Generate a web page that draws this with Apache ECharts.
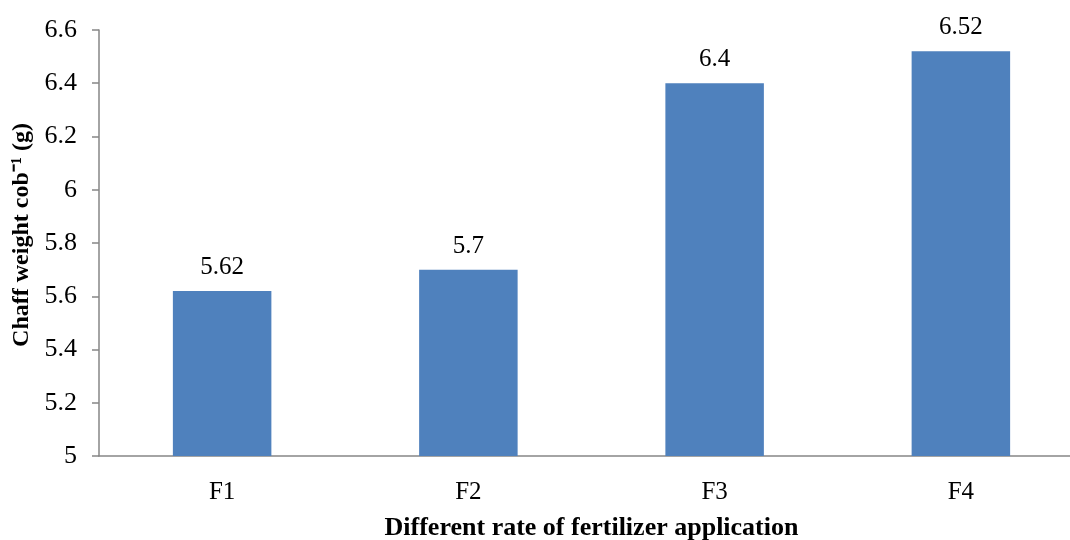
<!DOCTYPE html>
<html>
<head>
<meta charset="utf-8">
<script src="https://cdn.jsdelivr.net/npm/echarts@6/dist/echarts.min.js"></script>
<style>html,body{margin:0;padding:0;background:#fff;}#c{width:1070px;height:540px;}</style>
</head>
<body>
<div id="c"></div>
<script>
const categories = ['F1', 'F2', 'F3', 'F4'];
const chaffWeight = [5.62, 5.7, 6.4, 6.52];
const yMin = 5, yMax = 6.6, yInterval = 0.2;

const chart = echarts.init(document.getElementById('c'), null, {renderer: 'canvas'});
const serif = '"Liberation Serif", "Times New Roman", serif';
chart.setOption({
  animation: false,
  backgroundColor: '#ffffff',
  grid: {left: 99, top: 30, width: 985, height: 426, containLabel: false, outerBoundsMode: 'none'},
  xAxis: {
    type: 'category',
    data: categories,
    name: 'Different rate of fertilizer application',
    nameLocation: 'middle',
    nameGap: 59,
    nameTextStyle: {fontFamily: serif, fontWeight: 'bold', fontSize: 26, color: '#000'},
    axisLine: {show: true, lineStyle: {color: '#868686', width: 1.5}},
    axisTick: {show: false},
    axisLabel: {fontFamily: serif, fontSize: 25, color: '#000', margin: 24}
  },
  yAxis: {
    type: 'value',
    min: yMin, max: yMax, interval: yInterval,
    name: 'Chaff weight cob\u207B\u00B9 (g)',
    nameLocation: 'middle',
    nameGap: 58,
    nameTextStyle: {fontFamily: serif, fontWeight: 'bold', fontSize: 24, color: '#000', padding: [0, 0, 0, 16]},
    axisLine: {show: true, lineStyle: {color: '#868686', width: 1.5}},
    axisTick: {show: true, length: 7, lineStyle: {color: '#868686', width: 1.5}},
    splitLine: {show: false},
    axisLabel: {fontFamily: serif, fontSize: 26, color: '#000', margin: 22,
      formatter: v => String(parseFloat(v.toFixed(1)))}
  },
  series: [{
    type: 'bar',
    data: chaffWeight,
    barWidth: '40%',
    itemStyle: {color: '#4F81BD'},
    label: {show: true, position: 'top', distance: 11, fontFamily: serif, fontSize: 25, color: '#000'}
  }]
});
</script>
</body>
</html>
